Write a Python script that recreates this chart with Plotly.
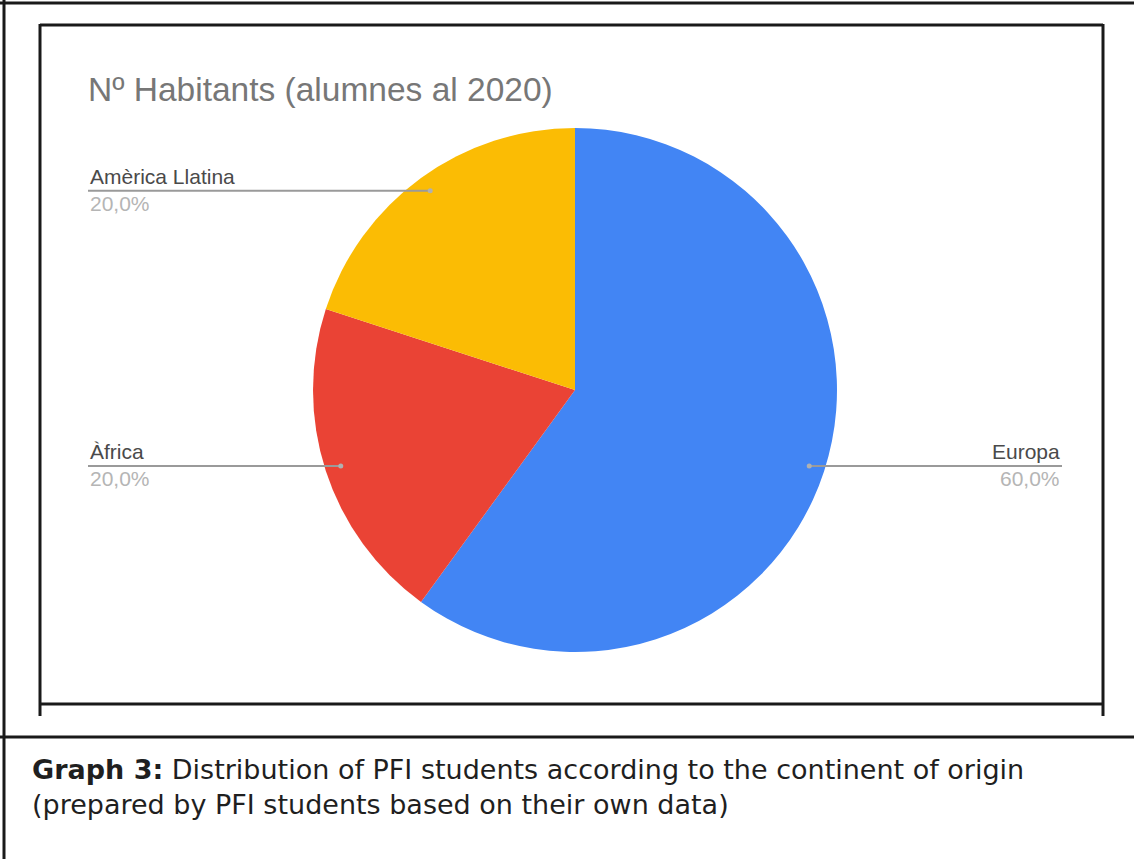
import math
import plotly.graph_objects as go

# Data
continents = ["Europa", "Àfrica", "Amèrica Llatina"]
shares = [60.0, 20.0, 20.0]
slice_colors = ["#4285F4", "#EA4335", "#FBBC04"]
chart_title = "Nº Habitants (alumnes al 2020)"
caption_bold = "Graph 3:"
caption_line1 = " Distribution of PFI students according to the continent of origin"
caption_line2 = "(prepared by PFI students based on their own data)"

W, H = 1134, 859
CX, CY, R = 575, 390, 262          # pie centre and radius in pixels


def px(x):
    return x / W


def py(y):
    return 1 - y / H


fig = go.Figure()
fig.add_trace(go.Pie(
    labels=continents,
    values=shares,
    marker=dict(colors=slice_colors, line=dict(width=0)),
    sort=False,
    direction="clockwise",
    rotation=0,
    textinfo="none",
    hoverinfo="label+percent",
    showlegend=False,
    domain=dict(x=[px(CX - R), px(CX + R)], y=[py(CY + R), py(CY - R)]),
))

shapes = []
annotations = []

# Leader lines and labels placed from each slice's mid angle
total = sum(shares)
start = 0.0
for name, val in zip(continents, shares):
    mid = (start + val / 2) / total * 360.0
    start += val
    ang = math.radians(90 - mid)
    f = 0.94
    dx = CX + f * R * math.cos(ang)
    dy = CY - f * R * math.sin(ang)
    right = dx > CX
    end_x = 1062 if right else 88
    shapes.append(dict(type="line", xref="paper", yref="paper",
                       x0=px(dx), x1=px(end_x), y0=py(dy), y1=py(dy),
                       line=dict(color="#9a9a9a", width=2)))
    shapes.append(dict(type="circle", xref="paper", yref="paper",
                       x0=px(dx - 2.5), x1=px(dx + 2.5),
                       y0=py(dy + 2.5), y1=py(dy - 2.5),
                       fillcolor="#b0b0b0", line=dict(width=0)))
    anchor = "right" if right else "left"
    annotations.append(dict(x=px(end_x), y=py(dy - 1), xref="paper", yref="paper",
                            text=name, showarrow=False, xanchor=anchor, yanchor="bottom",
                            font=dict(family="Liberation Sans, Arial", size=21, color="#4a4a4a")))
    annotations.append(dict(x=px(end_x), y=py(dy - 1), xref="paper", yref="paper",
                            text=f"{val / total * 100:.1f}%".replace(".", ","),
                            showarrow=False, xanchor=anchor, yanchor="top",
                            font=dict(family="Liberation Sans, Arial", size=21, color="#b5b5b5")))

# Chart title
annotations.append(dict(x=px(86), y=py(89), xref="paper", yref="paper",
                        text=chart_title, showarrow=False, xanchor="left", yanchor="middle",
                        font=dict(family="Liberation Sans, Arial", size=33.5, color="#777777")))

# Caption below the chart
annotations.append(dict(x=px(30), y=py(787), xref="paper", yref="paper",
                        text=f"<b>{caption_bold}</b>{caption_line1}<br>{caption_line2}",
                        showarrow=False, xanchor="left", yanchor="middle", align="left",
                        font=dict(family="DejaVu Sans", size=27, color="#1f1f1f")))

# Frames
dark = "#1a1a1a"


def seg(x0, y0, x1, y1, w=3, c=dark):
    shapes.append(dict(type="line", xref="paper", yref="paper",
                       x0=px(x0), y0=py(y0), x1=px(x1), y1=py(y1),
                       line=dict(color=c, width=w)))


# outer page border
seg(0, 3, W, 3)
seg(4, 0, 4, H)
seg(0, 737, W, 737)
# inner chart frame
seg(40, 25, 1103, 25)
seg(40, 24, 40, 716)
seg(1103, 24, 1103, 716)
seg(40, 704, 1103, 704)

fig.update_layout(
    width=W, height=H,
    margin=dict(l=0, r=0, t=0, b=0),
    paper_bgcolor="white",
    plot_bgcolor="white",
    shapes=shapes,
    annotations=annotations,
)

fig.write_html("out.html")
